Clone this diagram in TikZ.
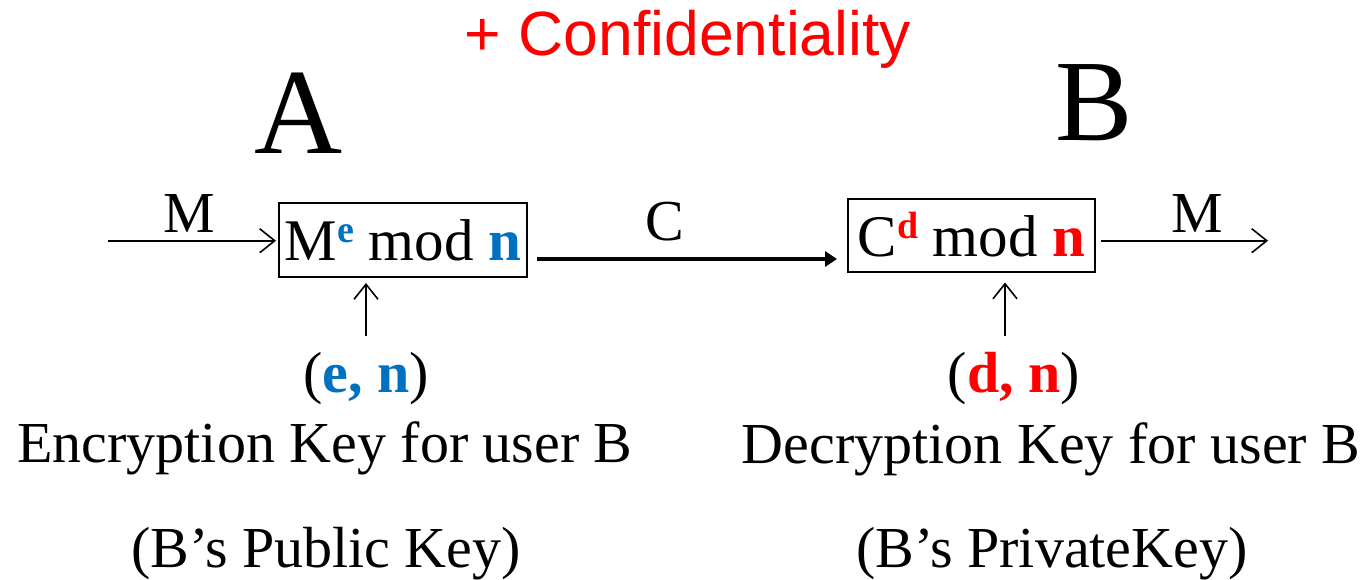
\documentclass[tikz,border=0pt]{standalone}
\usepackage{fontspec}
\setmainfont{Liberation Serif}
\newfontfamily\titlefont{Liberation Sans}
\usetikzlibrary{arrows.meta}
\definecolor{keyblue}{HTML}{0070C0}
\definecolor{keyred}{HTML}{FF0000}
\newcommand{\fs}[1]{\fontsize{#1}{#1}\selectfont}
\newcommand{\supkey}[2]{\raisebox{18pt}{\fs{38}\bfseries\color{#1}#2}}
\tikzset{
  txt/.style={inner sep=0pt, anchor=base, font=\fs{58}},
  opbox/.style={draw, line width=2pt, inner sep=0pt, font=\fs{59}},
  thinarrow/.style={line width=1.6pt, -{Straight Barb[length=15pt,width=24pt,line width=1.6pt]}},
  thickarrow/.style={line width=3.2pt, -{Triangle[length=12pt,width=15pt]}},
}
\begin{document}
\begin{tikzpicture}[x=1pt,y=-1pt]
\useasboundingbox (0,0) rectangle (1367,579);

\node[txt, font=\titlefont\fs{62.5}, text=keyred] (title) at (688,55) {+ Confidentiality};
\node[txt, font=\fs{122}] (partyA) at (299,153) {A};
\node[txt, font=\fs{116}] (partyB) at (1094,140) {B};

% encryption and decryption boxes
\node[opbox, minimum width=248pt, minimum height=74pt] (enc) at (403,240)
  {M\supkey{keyblue}{e} mod \textbf{\color{keyblue}n}};
\node[opbox, minimum width=247pt, minimum height=73pt] (dec) at (971.5,235)
  {C\supkey{keyred}{d} mod \textbf{\color{keyred}n}};

% message in, ciphertext, message out
\coordinate (min) at (108,240.7);
\coordinate (mout) at (1268,240.7);
\draw[thinarrow, shorten >=2pt] (min) -- (min -| enc.west);
\node[txt] (lm1) at (189,232) {M};

\draw[thickarrow] ([xshift=9pt,yshift=-19pt]enc.east) -- ([xshift=-10pt,yshift=-24pt]dec.west);
\node[txt] (lc) at (665,240) {C};

\draw[thinarrow] ([xshift=5pt,yshift=-5.7pt]dec.east) -- (mout);
\node[txt] (lm2) at (1197,232) {M};

% keys
\node[txt] (pubkey) at (366,392) {(\textbf{\color{keyblue}e, n})};
\node[txt] (privkey) at (1014,392) {(\textbf{\color{keyred}d, n})};
\coordinate (kin1) at (366,336);
\coordinate (kin2) at (1005,336);
\draw[thinarrow, shorten >=5pt] (kin1) -- (kin1 |- enc.south);
\draw[thinarrow, shorten >=10pt] (kin2) -- (kin2 |- dec.south);

\node[txt] (encdesc) at (325,462) {Encryption Key for user B};
\node[txt] (decdesc) at (1051,463) {Decryption Key for user B};
\node[txt] (encnote) at (326,567) {(B’s Public Key)};
\node[txt] (decnote) at (1052,567) {(B’s PrivateKey)};
\end{tikzpicture}
\end{document}
